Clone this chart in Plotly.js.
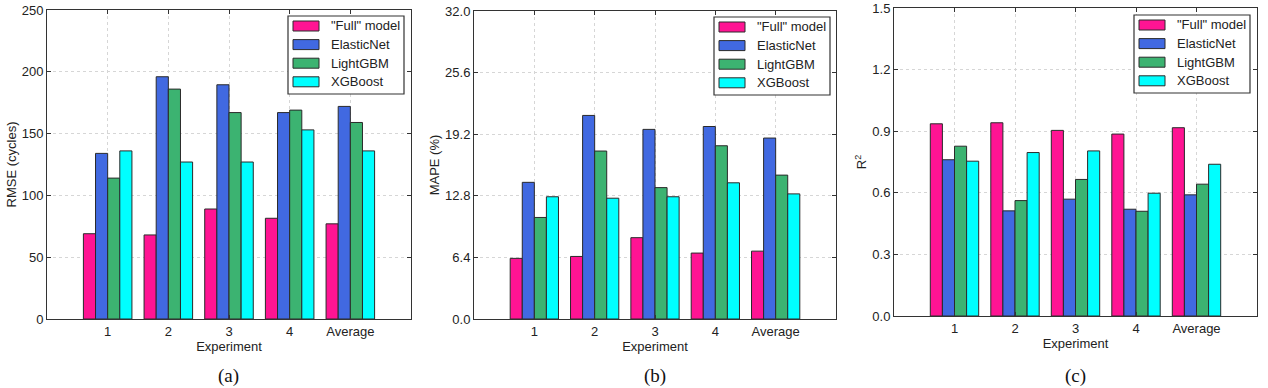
<!DOCTYPE html>
<html>
<head>
<meta charset="utf-8">
<script src="https://cdn.plot.ly/plotly-3.0.1.min.js"></script>
<style>html,body{margin:0;padding:0;background:#fff;}#chart{width:1268px;height:388px;}</style>
</head>
<body>
<div id="chart"></div>
<script>
const experiments = ['1', '2', '3', '4', 'Average'];
const models = ['"Full" model', 'ElasticNet', 'LightGBM', 'XGBoost'];
const colors = ['#FF1493', '#4169E1', '#3CB371', '#00FFFF'];

// (a) RMSE (cycles)
const rmseFull = [69, 68, 89, 81.5, 77];
const rmseElastic = [134, 196, 189.5, 167, 172];
const rmseLGBM = [114, 186, 167, 169, 159];
const rmseXGB = [136, 127, 127, 153, 136];

// (b) MAPE (%)
const mapeFull = [6.3, 6.5, 8.45, 6.85, 7.05];
const mapeElastic = [14.2, 21.15, 19.7, 20.0, 18.8];
const mapeLGBM = [10.55, 17.45, 13.65, 18.0, 14.95];
const mapeXGB = [12.7, 12.55, 12.7, 14.15, 13.0];

// (c) R^2
const r2Full = [0.936, 0.941, 0.904, 0.886, 0.917];
const r2Elastic = [0.761, 0.512, 0.569, 0.52, 0.59];
const r2LGBM = [0.827, 0.562, 0.665, 0.51, 0.642];
const r2XGB = [0.754, 0.796, 0.804, 0.598, 0.739];

const yTicksA = [0, 50, 100, 150, 200, 250];
const yTicksB = [0, 6.4, 12.8, 19.2, 25.6, 32.0];
const yTicksC = [0, 0.3, 0.6, 0.9, 1.2, 1.5];

const panels = [
  {series: [rmseFull, rmseElastic, rmseLGBM, rmseXGB], ticks: yTicksA, fmt: v => String(v), title: 'RMSE (cycles)', caption: '(a)'},
  {series: [mapeFull, mapeElastic, mapeLGBM, mapeXGB], ticks: yTicksB, fmt: v => v.toFixed(1), title: 'MAPE (%)', caption: '(b)'},
  {series: [r2Full, r2Elastic, r2LGBM, r2XGB], ticks: yTicksC, fmt: v => v.toFixed(1), title: 'R<sup>2</sup>', caption: '(c)'}
];

const W = 1268, H = 388;
const boxes = [
  {l: 47, r: 411, t: 10, b: 319, leg: [288, 16]},
  {l: 474, r: 836, t: 11, b: 319, leg: [714, 17]},
  {l: 894, r: 1257, t: 8, b: 316, leg: [1134, 15]}
];

const font = 'Liberation Sans, Arial, sans-serif';
const fs = 13;
const px = x => x / W;
const py = y => 1 - y / H;
const traces = [];
const layout = {
  width: W, height: H,
  margin: {l: 0, r: 0, t: 0, b: 0},
  paper_bgcolor: '#fff', plot_bgcolor: '#fff',
  barmode: 'group', bargap: 0.2, bargroupgap: 0,
  font: {family: font, size: fs, color: '#222'},
  annotations: [], shapes: [],
  showlegend: false
};

panels.forEach((p, i) => {
  const n = i === 0 ? '' : String(i + 1);
  const bx = boxes[i];
  p.series.forEach((vals, k) => {
    traces.push({
      type: 'bar', x: experiments, y: vals, name: models[k],
      xaxis: 'x' + n, yaxis: 'y' + n,
      marker: {color: colors[k], line: {color: '#2a2a2a', width: 1}},
      hoverinfo: 'y'
    });
  });
  layout['xaxis' + n] = {
    domain: [px(bx.l), px(bx.r)], anchor: 'y' + n,
    type: 'category', range: [-1, 5],
    showline: true, linecolor: '#333', linewidth: 1, mirror: 'ticks',
    ticks: 'inside', ticklen: 4, tickcolor: '#333',
    showgrid: true, gridcolor: '#d6d6d6', griddash: 'dot', gridwidth: 1,
    tickfont: {family: font, size: fs, color: '#222'},
    title: {text: 'Experiment', font: {family: font, size: fs, color: '#222'}, standoff: 1},
    zeroline: false, fixedrange: true
  };
  layout['yaxis' + n] = {
    domain: [py(bx.b), py(bx.t)], anchor: 'x' + n,
    range: [p.ticks[0], p.ticks[p.ticks.length - 1]],
    tickvals: p.ticks, ticktext: p.ticks.map(p.fmt),
    showline: true, linecolor: '#333', linewidth: 1, mirror: 'ticks',
    ticks: 'inside', ticklen: 4, tickcolor: '#333',
    showgrid: true, gridcolor: '#d6d6d6', griddash: 'dot', gridwidth: 1,
    tickfont: {family: font, size: fs, color: '#222'},
    title: {text: p.title, font: {family: font, size: fs, color: '#222'}, standoff: 2},
    zeroline: false, fixedrange: true
  };
  // legend box
  const lx = bx.leg[0], ly = bx.leg[1], lw = 116, lh = 78;
  layout.shapes.push({type: 'rect', xref: 'paper', yref: 'paper',
    x0: px(lx), x1: px(lx + lw), y0: py(ly), y1: py(ly + lh),
    fillcolor: '#fff', line: {color: '#333', width: 1.2}, layer: 'above'});
  models.forEach((m, k) => {
    const cy = ly + 10 + 18.6 * k;
    layout.shapes.push({type: 'rect', xref: 'paper', yref: 'paper',
      x0: px(lx + 5), x1: px(lx + 31), y0: py(cy - 5), y1: py(cy + 5),
      fillcolor: colors[k], line: {color: '#2a2a2a', width: 1}, layer: 'above'});
    layout.annotations.push({xref: 'paper', yref: 'paper', x: px(lx + 41), y: py(cy),
      xanchor: 'left', yanchor: 'middle', showarrow: false, text: m,
      font: {family: font, size: fs, color: '#222'}});
  });
  layout.annotations.push({
    xref: 'paper', yref: 'paper', x: px((bx.l + bx.r) / 2), y: py(376),
    xanchor: 'center', yanchor: 'middle', showarrow: false,
    text: p.caption, font: {family: 'Liberation Serif, Times New Roman, serif', size: 19, color: '#111'}
  });
});

Plotly.newPlot('chart', traces, layout, {displayModeBar: false, staticPlot: true});
</script>
</body>
</html>
